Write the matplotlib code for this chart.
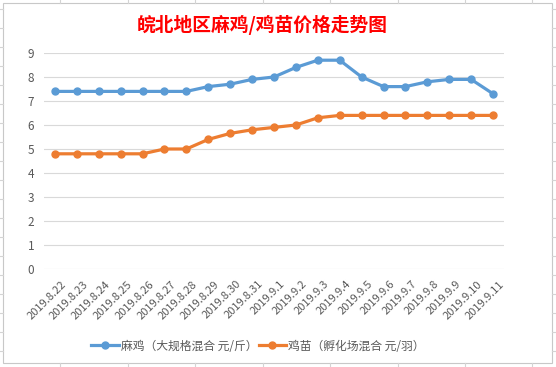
import numpy as np
import matplotlib
matplotlib.use('Agg')
from matplotlib import pyplot as plt
from matplotlib.lines import Line2D
from matplotlib.patches import Rectangle
from matplotlib.transforms import ScaledTranslation

# 数据
dates = ['2019.8.22', '2019.8.23', '2019.8.24', '2019.8.25', '2019.8.26', '2019.8.27',
         '2019.8.28', '2019.8.29', '2019.8.30', '2019.8.31', '2019.9.1', '2019.9.2',
         '2019.9.3', '2019.9.4', '2019.9.5', '2019.9.6', '2019.9.7', '2019.9.8',
         '2019.9.9', '2019.9.10', '2019.9.11']
maji = [7.4, 7.4, 7.4, 7.4, 7.4, 7.4, 7.4, 7.6, 7.7, 7.9, 8.0, 8.4, 8.7, 8.7,
        8.0, 7.6, 7.6, 7.8, 7.9, 7.9, 7.3]
jimiao = [4.8, 4.8, 4.8, 4.8, 4.8, 5.0, 5.0, 5.4, 5.65, 5.8, 5.9, 6.0, 6.3, 6.4,
          6.4, 6.4, 6.4, 6.4, 6.4, 6.4, 6.4]
yticks = list(range(0, 10))

W, H = 556, 367
plt.rcParams['font.family'] = ['Noto Sans CJK SC', 'DejaVu Sans']
fig = plt.figure(figsize=(W/100, H/100), dpi=100)
fig.patch.set_facecolor('white')

def fx(px): return px/W
def fy(py): return 1-py/H

# 背景表格线
for xx in [60, 128, 195, 263, 330, 398, 465, 532]:
	fig.add_artist(Line2D([fx(xx), fx(xx)], [fy(0), fy(3)], color='#d4d4d4', lw=0.8))
	fig.add_artist(Line2D([fx(xx), fx(xx)], [fy(363), fy(367)], color='#d4d4d4', lw=0.8))
for yy in range(9, 367, 19):
	fig.add_artist(Line2D([fx(0), fx(3)], [fy(yy), fy(yy)], color='#d4d4d4', lw=0.8))
	fig.add_artist(Line2D([fx(552), fx(556)], [fy(yy), fy(yy)], color='#d4d4d4', lw=0.8))
fig.add_artist(Rectangle((fx(3), fy(363)), fx(552)-fx(3), fy(3)-fy(363),
                         fill=False, edgecolor='#c8c8c8', lw=0.8))

ax = fig.add_axes([fx(44), fy(269), fx(504)-fx(44), fy(53)-fy(269)])
x = np.arange(len(dates))
l1, = ax.plot(x, maji, color='#5B9BD5', lw=2.3, marker='o', markersize=5, zorder=3,
              label='麻鸡（大规格混合 元/斤）')
l2, = ax.plot(x, jimiao, color='#ED7D31', lw=2.3, marker='o', markersize=5, zorder=3,
              label='鸡苗（孵化场混合 元/羽）')

ax.set_xlim(-0.5, len(dates)-0.5)
ax.set_ylim(0, 9)
ax.set_yticks(yticks)
ax.yaxis.grid(True, color='#d9d9d9', lw=0.8)
ax.set_axisbelow(True)
for s in ax.spines.values():
	s.set_visible(False)
ax.tick_params(axis='both', length=0, colors='#595959', labelsize=8.5)
ax.tick_params(axis='y', pad=7)
ax.set_xticks(x)
ax.set_xticklabels(dates, rotation=45, ha='right', va='top', rotation_mode='anchor')
off = ScaledTranslation(0.06, -0.05, fig.dpi_scale_trans)
for t in ax.get_xticklabels():
	t.set_fontsize(8)
	t.set_transform(t.get_transform() + off)

fig.text(fx(262), fy(25), '皖北地区麻鸡/鸡苗价格走势图', color='red', fontsize=13.5,
         fontweight='bold', ha='center', va='center')

fig.legend(handles=[l1, l2], loc='center', bbox_to_anchor=(fx(258), fy(346)), ncol=2,
           frameon=False, fontsize=8.5, handlelength=2.3, columnspacing=0.1,
           handletextpad=0.2, labelcolor='#595959')

fig.savefig('out.png', dpi=100, facecolor='white')
